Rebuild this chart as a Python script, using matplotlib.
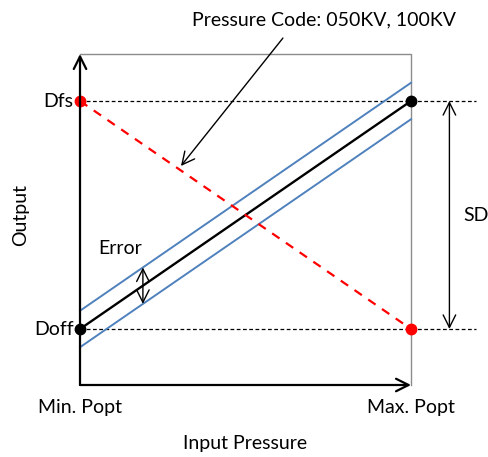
import matplotlib
matplotlib.use("Agg")
import matplotlib.pyplot as plt

plt.rcParams['font.family'] = ['Lato', 'DejaVu Sans']

# Normalised transfer function: pressure from Min. Popt (0) to Max. Popt (1),
# output from Doff (0) to Dfs (1)
pressure = [0.0, 1.0]
output_nominal = [0.0, 1.0]
output_reverse = [1.0, 0.0]
error_band = 0.08

x_labels = ["Min. Popt", "Max. Popt"]
y_labels = ["Doff", "Dfs"]

fig = plt.figure(figsize=(4.89, 4.57), dpi=100)
ax = fig.add_axes([0, 0, 1, 1])
ax.set_xlim(-0.2417, 1.2356)
ax.set_ylim(-0.5614, 1.4430)
ax.axis('off')

x_min, x_max = pressure[0], pressure[-1]
y_bottom, y_top = -0.2456, 1.206

# gray frame (top and right)
ax.plot([x_min, x_max, x_max], [y_top, y_top, y_bottom], color='#8c8c8c', lw=1.0)

# axes with open arrowheads
arrow_kw = dict(arrowstyle='->,head_length=0.9,head_width=0.45', color='black', lw=1.6,
                shrinkA=0, shrinkB=0)
ax.annotate('', xy=(x_min, y_top), xytext=(x_min, y_bottom), arrowprops=arrow_kw)
ax.annotate('', xy=(x_max, y_bottom), xytext=(x_min, y_bottom), arrowprops=arrow_kw)

# dotted reference levels
for level in output_nominal:
    ax.plot([x_min, 1.196], [level, level], color='black', lw=0.9, ls=(0, (3, 2)))

# error band and nominal line
upper = [v + error_band for v in output_nominal]
lower = [v - error_band for v in output_nominal]
ax.plot(pressure, upper, color='#4f81bd', lw=1.4)
ax.plot(pressure, lower, color='#4f81bd', lw=1.4)
ax.plot(pressure, output_nominal, color='black', lw=1.7)
ax.plot(pressure, output_nominal, 'o', color='black', ms=7.5)

# reverse output
ax.plot(pressure, output_reverse, color='#ff0000', lw=1.6, ls=(0, (4, 3.5)))
ax.plot(pressure, output_reverse, 'o', color='#ff0000', ms=7.5)

# double arrows
dbl_kw = dict(arrowstyle='<->,head_length=0.9,head_width=0.45', color='black', lw=1.0,
              shrinkA=0, shrinkB=0)
ax.annotate('', xy=(1.116, output_nominal[-1]), xytext=(1.116, output_nominal[0]),
            arrowprops=dbl_kw)
x_err = 0.19
ax.annotate('', xy=(x_err, x_err + error_band), xytext=(x_err, x_err - error_band),
            arrowprops=dbl_kw)

# pointer to the reverse line
ax.annotate('', xy=(0.305, 0.715), xytext=(0.613, 1.276),
            arrowprops=dict(arrowstyle='->,head_length=0.9,head_width=0.45',
                            color='black', lw=1.0, shrinkA=0, shrinkB=0))

fs = 14
ax.text(0.736, 1.355, "Pressure Code: 050KV, 100KV", fontsize=fs, ha='center', va='center')
ax.text(1.157, 0.5, "SD", fontsize=fs, ha='left', va='center')
ax.text(0.121, 0.351, "Error", fontsize=fs, ha='center', va='center')
for lab, val in zip(y_labels, output_nominal):
    ax.text(-0.02, val, lab, fontsize=fs, ha='right', va='center')
for lab, val in zip(x_labels, pressure):
    ax.text(val, -0.346, lab, fontsize=fs, ha='center', va='center')
ax.text(0.5, -0.5, "Input Pressure", fontsize=fs, ha='center', va='center')
ax.text(-0.178, 0.5, "Output", fontsize=fs, ha='center', va='center', rotation=90)

fig.savefig("out.png", dpi=100)
